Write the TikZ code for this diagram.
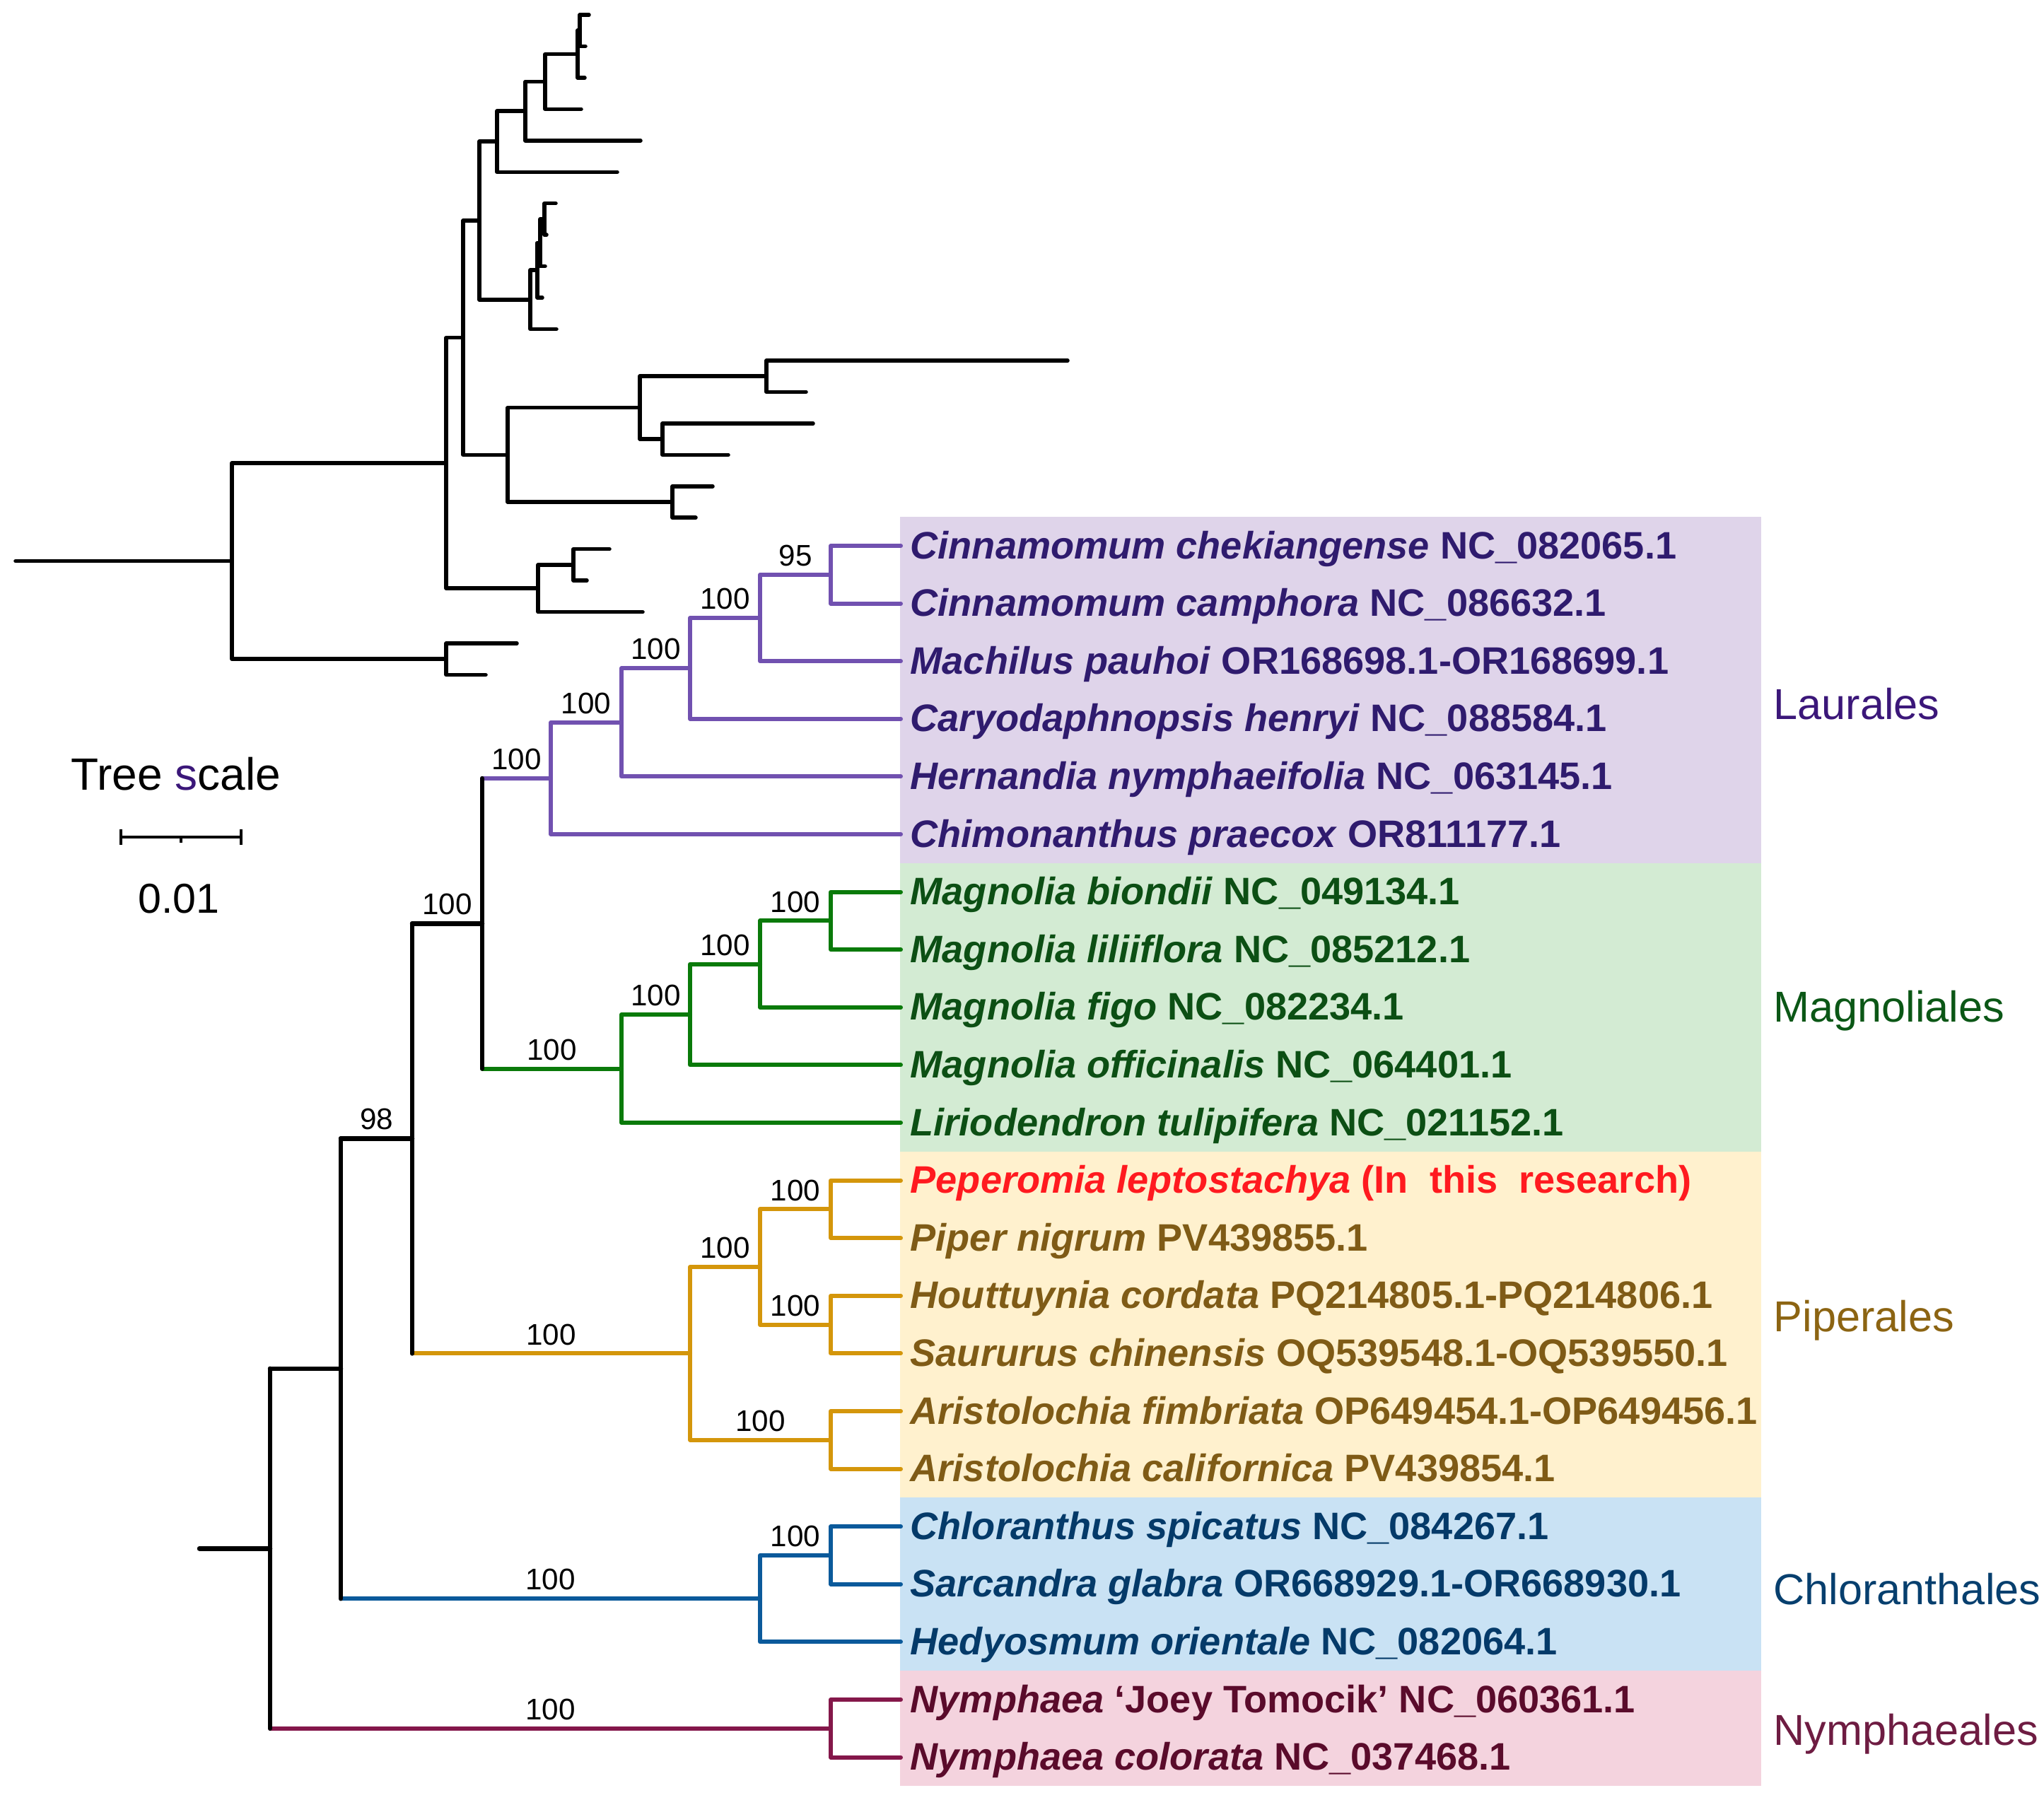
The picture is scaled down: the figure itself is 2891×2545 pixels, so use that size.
\documentclass[tikz,border=0pt]{standalone}
\usepackage{fontspec}
\setmainfont{Liberation Sans}
\definecolor{laubr}{HTML}{7151B0}
\definecolor{laubg}{HTML}{DFD4EA}
\definecolor{lautx}{HTML}{2F1B6E}
\definecolor{laucl}{HTML}{3B1779}
\definecolor{magbr}{HTML}{0A7A0A}
\definecolor{magbg}{HTML}{D3EBD3}
\definecolor{magtx}{HTML}{0C4F14}
\definecolor{magcl}{HTML}{0B5716}
\definecolor{pipbr}{HTML}{D4960B}
\definecolor{pipbg}{HTML}{FFF1CE}
\definecolor{piptx}{HTML}{7F5B16}
\definecolor{pipcl}{HTML}{8C6412}
\definecolor{newtx}{HTML}{FF1A1F}
\definecolor{chlbr}{HTML}{0B5A9B}
\definecolor{chlbg}{HTML}{C9E2F4}
\definecolor{chltx}{HTML}{043A69}
\definecolor{chlcl}{HTML}{073F6E}
\definecolor{nymbr}{HTML}{84174A}
\definecolor{nymbg}{HTML}{F4D3DE}
\definecolor{nymtx}{HTML}{5A0B2B}
\definecolor{nymcl}{HTML}{6E1C42}
\begin{document}
\begin{tikzpicture}[x=0.01cm,y=-0.01cm,
  br/.style={line width=0.06cm,line cap=round,line join=round},
  blk/.style={br,black,line width=0.065cm},top/.style={br,black,line width=0.055cm},
  lau/.style={br,laubr},mag/.style={br,magbr},
  pip/.style={br,pipbr},chl/.style={br,chlbr},nym/.style={br,nymbr},
  sbar/.style={line width=0.04cm,black},
  boot/.style={above=0.09cm,inner sep=0pt,text=black,font=\fontsize{12}{14}\selectfont},
  tip/.style={anchor=base west,inner sep=0pt,xshift=0.13cm,yshift=-0.18cm,font=\fontsize{15.4}{18}\selectfont\bfseries},
  clade/.style={anchor=base west,inner sep=0pt,font=\fontsize{17.4}{20}\selectfont}]
\useasboundingbox (0,0) rectangle (2891,2545);
% order boxes
\fill[laubg] (1273,731.2) rectangle (2491,1220.8);
\fill[magbg] (1273,1220.8) rectangle (2491,1628.8);
\fill[pipbg] (1273,1628.8) rectangle (2491,2118.4);
\fill[chlbg] (1273,2118.4) rectangle (2491,2363.2);
\fill[nymbg] (1273,2363.2) rectangle (2491,2526.4);
% upper tree (unlabelled)
\coordinate (t0) at (833,21.0);
\coordinate (t1) at (828,65.5);
\coordinate (t2) at (827,109.9);
\coordinate (t3) at (822,154.4);
\coordinate (t4) at (906,198.8);
\coordinate (t5) at (873,243.3);
\coordinate (t6) at (786,287.7);
\coordinate (t7) at (773,332.2);
\coordinate (t8) at (771,376.6);
\coordinate (t9) at (767,421.1);
\coordinate (t10) at (787,465.5);
\coordinate (t11) at (1510,510.0);
\coordinate (t12) at (1140,554.4);
\coordinate (t13) at (1150,598.9);
\coordinate (t14) at (1030,643.3);
\coordinate (t15) at (1008,687.8);
\coordinate (t16) at (984,732.2);
\coordinate (t17) at (862,776.7);
\coordinate (t18) at (830,821.1);
\coordinate (t19) at (909,865.6);
\coordinate (t20) at (731,910.0);
\coordinate (t21) at (687,954.5);
\coordinate (uM) at (820,43.2);
\coordinate (uL) at (817,76.6);
\coordinate (uK) at (771,115.5);
\coordinate (uJ) at (743,157.2);
\coordinate (uH) at (703,200.2);
\coordinate (uP) at (770,310.0);
\coordinate (uO) at (764,343.3);
\coordinate (uN) at (760,382.2);
\coordinate (uI) at (750,423.9);
\coordinate (uF) at (678,312.1);
\coordinate (uR) at (1084,532.2);
\coordinate (uS) at (937,621.1);
\coordinate (uQ) at (905,576.7);
\coordinate (uT) at (951,710.0);
\coordinate (uG) at (718,643.3);
\coordinate (uC) at (655,477.7);
\coordinate (uE) at (811,798.9);
\coordinate (uD) at (761,832.2);
\coordinate (uB) at (631,655.0);
\coordinate (uU) at (631,932.2);
\coordinate (uA) at (328,793.6);
\coordinate (uroot) at (22,793.6);
\draw[top] (t0) -| (uM) |- (t1);
\draw[top] (uM) -| (uL) |- (t2);
\draw[top] (uL) -| (uK) |- (t3);
\draw[top] (uK) -| (uJ) |- (t4);
\draw[top] (uJ) -| (uH) |- (t5);
\draw[top] (t6) -| (uP) |- (t7);
\draw[top] (uP) -| (uO) |- (t8);
\draw[top] (uO) -| (uN) |- (t9);
\draw[top] (uN) -| (uI) |- (t10);
\draw[top] (uH) -| (uF) |- (uI);
\draw[top] (t11) -| (uR) |- (t12);
\draw[top] (t13) -| (uS) |- (t14);
\draw[top] (uR) -| (uQ) |- (uS);
\draw[top] (t15) -| (uT) |- (t16);
\draw[top] (uQ) -| (uG) |- (uT);
\draw[top] (uF) -| (uC) |- (uG);
\draw[top] (t17) -| (uE) |- (t18);
\draw[top] (uE) -| (uD) |- (t19);
\draw[top] (uC) -| (uB) |- (uD);
\draw[top] (t20) -| (uU) |- (t21);
\draw[top] (uB) -| (uA) |- (uU);
\draw[top] (uroot) -- (uA);
% lower tree
\foreach \i/\y in {0/772.0,1/853.6,2/935.2,3/1016.8,4/1098.4,5/1180.0,6/1261.6,7/1343.2,8/1424.8,9/1506.4,10/1588.0,11/1669.6,12/1751.2,13/1832.8,14/1914.4,15/1996.0,16/2077.6,17/2159.2,18/2240.8,19/2322.4,20/2404.0,21/2485.6}
  \coordinate (l\i) at (1274,\y);
\coordinate (la9) at (1175,812.8);
\coordinate (la8) at (1075,874.0);
\coordinate (la7) at (976,945.4);
\coordinate (la6) at (879,1021.9);
\coordinate (la5) at (779,1101.0);
\coordinate (ma9) at (1175,1302.4);
\coordinate (ma8) at (1075,1363.6);
\coordinate (ma7) at (976,1435.0);
\coordinate (ma6) at (879,1511.5);
\coordinate (lm) at (682,1306.3);
\coordinate (pa) at (1175,1710.4);
\coordinate (pb) at (1175,1873.6);
\coordinate (pc) at (1075,1792.0);
\coordinate (pd) at (1175,2036.8);
\coordinate (pe) at (976,1914.4);
\coordinate (n3) at (583,1610.3);
\coordinate (ca) at (1175,2200.0);
\coordinate (cb) at (1075,2261.2);
\coordinate (n2) at (482,1935.8);
\coordinate (ny) at (1175,2444.8);
\coordinate (n1) at (382,2190.3);
\coordinate (lroot) at (282,2190.3);
% Laurales
\draw[lau] (l0) -| (la9) |- (l1);
\draw[lau] (la9) -| node[pos=.25,boot]{95} (la8) |- (l2);
\draw[lau] (la8) -| node[pos=.25,boot]{100} (la7) |- (l3);
\draw[lau] (la7) -| node[pos=.25,boot]{100} (la6) |- (l4);
\draw[lau] (la6) -| node[pos=.25,boot]{100} (la5) |- (l5);
\draw[lau] (lm |- la5) -- node[boot]{100} (la5);
% Magnoliales
\draw[mag] (l6) -| (ma9) |- (l7);
\draw[mag] (ma9) -| node[pos=.25,boot]{100} (ma8) |- (l8);
\draw[mag] (ma8) -| node[pos=.25,boot]{100} (ma7) |- (l9);
\draw[mag] (ma7) -| node[pos=.25,boot]{100} (ma6) |- (l10);
\draw[mag] (lm |- ma6) -- node[boot]{100} (ma6);
\draw[blk] (lm |- la5) -- (lm |- ma6);
\draw[blk] (n3 |- lm) -- node[boot]{100} (lm);
% Piperales
\draw[pip] (l11) -| (pa) |- (l12);
\draw[pip] (l13) -| (pb) |- (l14);
\draw[pip] (pa) -| node[pos=.25,boot]{100} (pc) |- node[pos=.75,boot]{100} (pb);
\draw[pip] (l15) -| (pd) |- (l16);
\draw[pip] (pc) -| node[pos=.25,boot]{100} (pe) |- node[pos=.75,boot]{100} (pd);
\draw[pip] (n3 |- pe) -- node[boot]{100} (pe);
\draw[blk] (n3 |- lm) -- (n3 |- pe);
\draw[blk] (n2 |- n3) -- node[boot]{98} (n3);
% Chloranthales
\draw[chl] (l17) -| (ca) |- (l18);
\draw[chl] (ca) -| node[pos=.25,boot]{100} (cb) |- (l19);
\draw[chl] (n2 |- cb) -- node[boot]{100} (cb);
\draw[blk] (n2 |- n3) -- (n2 |- cb);
\draw[blk] (n1 |- n2) -- (n2);
% Nymphaeales
\draw[nym] (l20) -| (ny) |- (l21);
\draw[nym] (n1 |- ny) -- node[boot]{100} (ny);
\draw[blk] (n1 |- n2) -- (n1 |- ny);
\draw[blk] (lroot) -- (n1);
% tip labels
\node[tip,lautx] (s0) at (l0) {\textit{Cinnamomum chekiangense} NC\_082065.1};
\node[tip,lautx] (s1) at (l1) {\textit{Cinnamomum camphora} NC\_086632.1};
\node[tip,lautx] (s2) at (l2) {\textit{Machilus pauhoi} OR168698.1-OR168699.1};
\node[tip,lautx] (s3) at (l3) {\textit{Caryodaphnopsis henryi} NC\_088584.1};
\node[tip,lautx] (s4) at (l4) {\textit{Hernandia nymphaeifolia} NC\_063145.1};
\node[tip,lautx] (s5) at (l5) {\textit{Chimonanthus praecox} OR811177.1};
\node[tip,magtx] (s6) at (l6) {\textit{Magnolia biondii} NC\_049134.1};
\node[tip,magtx] (s7) at (l7) {\textit{Magnolia liliiflora} NC\_085212.1};
\node[tip,magtx] (s8) at (l8) {\textit{Magnolia figo} NC\_082234.1};
\node[tip,magtx] (s9) at (l9) {\textit{Magnolia officinalis} NC\_064401.1};
\node[tip,magtx] (s10) at (l10) {\textit{Liriodendron tulipifera} NC\_021152.1};
\node[tip,newtx] (s11) at (l11) {\textit{Peperomia leptostachya} (In~~this~~research)};
\node[tip,piptx] (s12) at (l12) {\textit{Piper nigrum} PV439855.1};
\node[tip,piptx] (s13) at (l13) {\textit{Houttuynia cordata} PQ214805.1-PQ214806.1};
\node[tip,piptx] (s14) at (l14) {\textit{Saururus chinensis} OQ539548.1-OQ539550.1};
\node[tip,piptx] (s15) at (l15) {\textit{Aristolochia fimbriata} OP649454.1-OP649456.1};
\node[tip,piptx] (s16) at (l16) {\textit{Aristolochia californica} PV439854.1};
\node[tip,chltx] (s17) at (l17) {\textit{Chloranthus spicatus} NC\_084267.1};
\node[tip,chltx] (s18) at (l18) {\textit{Sarcandra glabra} OR668929.1-OR668930.1};
\node[tip,chltx] (s19) at (l19) {\textit{Hedyosmum orientale} NC\_082064.1};
\node[tip,nymtx] (s20) at (l20) {\textit{Nymphaea} ‘Joey Tomocik’ NC\_060361.1};
\node[tip,nymtx] (s21) at (l21) {\textit{Nymphaea colorata} NC\_037468.1};
% order names
\node[clade,laucl] (claur) at (2508,1017) {Laurales};
\node[clade,magcl] (cmagn) at (2508,1445) {Magnoliales};
\node[clade,pipcl] (cpipe) at (2508,1883) {Piperales};
\node[clade,chlcl] (cchlo) at (2508,2269) {Chloranthales};
\node[clade,nymcl] (cnymp) at (2508,2468) {Nymphaeales};
% scale
\node[anchor=base,inner sep=0pt,font=\fontsize{18.2}{21}\selectfont] (tsc) at (249,1117) {Tree \textcolor{laucl}{s}cale};
\coordinate (sb0) at (171,1184);
\coordinate (sb1) at (341,1184);
\coordinate (sbm) at (256,1184);
\draw[sbar] (sb0) -- (sb1);
\draw[sbar] (sb0) ++(0,-11) -- ++(0,22) (sb1) ++(0,-11) -- ++(0,22) (sbm) -- ++(0,8);
\node[anchor=base,inner sep=0pt,font=\fontsize{16.8}{20}\selectfont] (tval) at (253,1291) {0.01};
\end{tikzpicture}
\end{document}
